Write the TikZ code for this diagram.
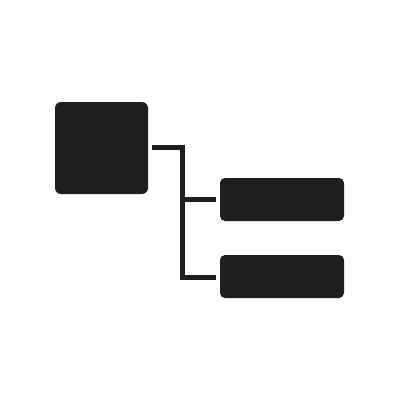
\documentclass[tikz,border=0pt]{standalone}
\begin{document}
\begin{tikzpicture}[x=1pt,y=-1pt,
    block/.style={fill=ink,draw=none,rounded corners=6pt,inner sep=0pt},
    link/.style={draw=ink,line width=5pt,line join=miter}]
    \definecolor{ink}{HTML}{1E1E1E}
    \useasboundingbox (0,0) rectangle (400,400);
    \node[block,minimum width=93pt,minimum height=92pt] (root) at (101.5,148) {};
    \node[block,rounded corners=5pt,minimum width=124pt,minimum height=43pt] (childa) at (282,199.5) {};
    \node[block,rounded corners=5pt,minimum width=124pt,minimum height=43pt] (childb) at (282,276.5) {};
    \coordinate (bus) at (182.5,199.5);
    \draw[link] ([xshift=4pt,yshift=0.5pt]root.east) -| ([yshift=-1pt]bus |- childb.west) -- ([xshift=-4pt,yshift=-1pt]childb.west);
    \draw[link] (bus) -- ([xshift=-4pt]childa.west);
\end{tikzpicture}
\end{document}
